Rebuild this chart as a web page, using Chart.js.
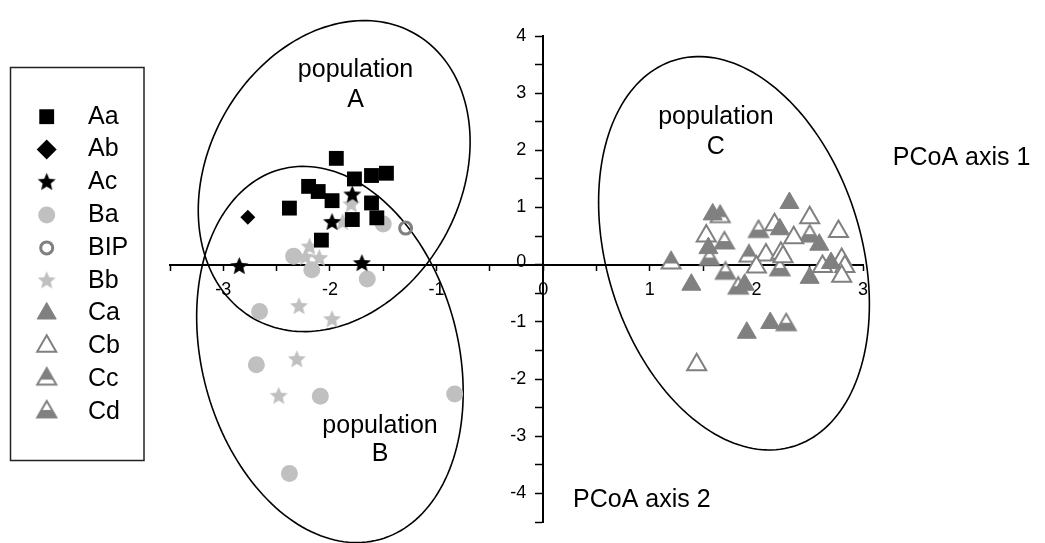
<!DOCTYPE html>
<html>
<head>
<meta charset="utf-8">
<title>PCoA</title>
<script src="https://cdn.jsdelivr.net/npm/chart.js@4/dist/chart.umd.min.js"></script>
<style>
  html, body { margin: 0; padding: 0; background: #fff; }
</style>
</head>
<body>
<canvas id="pcoa" width="1045" height="543"></canvas>
<script>
"use strict";

// collections, in legend order
var groupNames = ['Aa', 'Ab', 'Ac', 'Ba', 'BIP', 'Bb', 'Ca', 'Cb', 'Cc', 'Cd'];

// [PCoA axis 1, PCoA axis 2] per individual
var pointsAa = [[-1.94, 1.86], [-1.77, 1.50], [-1.61, 1.56], [-1.47, 1.60], [-2.20, 1.37], [-2.11, 1.28],
                [-1.98, 1.12], [-2.38, 0.99], [-1.61, 1.08], [-1.56, 0.82], [-1.79, 0.79], [-2.08, 0.43]];
var pointsAb = [[-2.77, 0.83]];
var pointsAc = [[-2.85, -0.03], [-1.70, 0.02], [-1.98, 0.74], [-1.79, 1.22]];
var pointsBa = [[-2.34, 0.15], [-2.17, -0.09], [-1.65, -0.25], [-1.50, 0.71], [-2.66, -0.82], [-2.69, -1.75],
                [-2.09, -2.30], [-0.83, -2.26], [-2.38, -3.65]];
var pointsBIP = [[-1.29, 0.64]];
var pointsBb = [[-2.19, 0.31], [-2.23, 0.13], [-2.10, 0.11], [-1.80, 1.05], [-1.88, 0.74], [-2.29, -0.73],
                [-1.98, -0.96], [-2.31, -1.66], [-2.48, -2.30]];
var pointsCa = [[2.31, 1.08], [1.59, 0.88], [2.22, 0.62], [1.55, 0.29], [2.59, 0.35], [2.70, 0.03],
                [2.50, -0.23], [1.39, -0.35], [1.89, -0.35], [2.13, -1.02], [1.91, -1.19]];
var pointsCb = [[2.50, 0.82], [2.17, 0.70], [2.77, 0.58], [1.53, 0.50], [2.35, 0.47], [2.09, 0.17],
                [2.23, 0.20], [2.25, 0.14], [2.00, -0.04], [2.62, -0.03], [2.80, 0.09], [2.83, -0.03],
                [2.80, -0.20], [1.44, -1.75]];
var pointsCc = [[1.20, 0.03], [1.93, 0.15], [1.66, 0.84]];
var pointsCd = [[2.02, 0.58], [1.70, 0.38], [1.56, 0.09], [2.50, 0.50], [1.71, -0.15], [2.22, -0.09],
                [1.83, -0.41], [2.28, -1.05]];

// axis ranges and tick step
var axis1Range = [-3.5, 3];
var axis2Range = [-4.5, 4];
var tickStep = 0.5;

// population outlines: centre, half extent along each axis, tilt (correlation)
var popNames = ['A', 'B', 'C'];
var popCentres = [[-1.96, 1.55], [-2.00, -1.57], [1.79, 0.20]];
var popHalfWidths = [1.275, 1.25, 1.27];
var popHalfHeights = [2.72, 3.29, 3.44];
var popTilts = [0.22, -0.20, -0.26];
var popLabelAt = [[-1.76, 3.40, 2.88], [-1.53, -2.82, -3.32], [1.62, 2.58, 2.06]];

var FONT = "'Liberation Sans', Arial, Helvetica, sans-serif";
var BLACK = '#000000';
var LIGHT = '#c0c0c0';
var DARK = '#808080';

Chart.defaults.font.family = FONT;

function makeStar(color, r) {
    var c = document.createElement('canvas');
    var s = Math.ceil(r * 2 + 2);
    c.width = s;
    c.height = s;
    var g = c.getContext('2d');
    g.fillStyle = color;
    g.beginPath();
    for (var i = 0; i < 10; i++) {
        var rr = (i % 2) ? r * 0.45 : r;
        var a = -Math.PI / 2 + i * Math.PI / 5;
        var px = s / 2 + rr * Math.cos(a);
        var py = s / 2 + rr * Math.sin(a);
        if (i === 0) { g.moveTo(px, py); } else { g.lineTo(px, py); }
    }
    g.closePath();
    g.fill();
    return c;
}

// outlined triangle with either the upper or the lower part filled
function makeSplitTriangle(color, r, fillTop) {
    var c = document.createElement('canvas');
    var s = Math.ceil(r * 2 + 4);
    c.width = s;
    c.height = s;
    var g = c.getContext('2d');
    var cx = s / 2, cy = s / 2;
    var half = r * Math.sin(Math.PI / 3);
    var top = cy - r, base = cy + r / 2;
    g.beginPath();
    g.moveTo(cx, top);
    g.lineTo(cx + half, base);
    g.lineTo(cx - half, base);
    g.closePath();
    g.fillStyle = '#ffffff';
    g.fill();
    g.save();
    g.clip();
    g.fillStyle = color;
    if (fillTop) {
        g.fillRect(0, 0, s, base - 5);
    } else {
        g.fillRect(0, base - 0.45 * (base - top), s, s);
    }
    g.restore();
    g.lineWidth = 2;
    g.strokeStyle = color;
    g.stroke();
    return c;
}

function toXY(list) {
    return list.map(function(p) { return {x: p[0], y: p[1]}; });
}

var blackStar = makeStar(BLACK, 9.5);
var greyStar = makeStar(LIGHT, 9.5);
var triTop = makeSplitTriangle(DARK, 11, true);
var triBottom = makeSplitTriangle(DARK, 11, false);

var styles = [
    {data: pointsAa, pointStyle: 'rect', bg: BLACK, border: BLACK, bw: 0, r: 10.5},
    {data: pointsAb, pointStyle: 'rectRot', bg: BLACK, border: BLACK, bw: 0, r: 7.5},
    {data: pointsAc, pointStyle: blackStar, bg: BLACK, border: BLACK, bw: 0, r: 9},
    {data: pointsBa, pointStyle: 'circle', bg: LIGHT, border: LIGHT, bw: 0, r: 8.5},
    {data: pointsBIP, pointStyle: 'circle', bg: 'rgba(0,0,0,0)', border: DARK, bw: 3, r: 6},
    {data: pointsBb, pointStyle: greyStar, bg: LIGHT, border: LIGHT, bw: 0, r: 9},
    {data: pointsCa, pointStyle: 'triangle', bg: DARK, border: DARK, bw: 1, r: 11},
    {data: pointsCb, pointStyle: 'triangle', bg: '#ffffff', border: DARK, bw: 2, r: 11},
    {data: pointsCc, pointStyle: triTop, bg: DARK, border: DARK, bw: 0, r: 11},
    {data: pointsCd, pointStyle: triBottom, bg: DARK, border: DARK, bw: 0, r: 11}
];

var datasets = styles.map(function(st, i) {
    return {
        label: groupNames[i],
        data: toXY(st.data),
        pointStyle: st.pointStyle,
        pointRadius: st.r,
        pointHoverRadius: st.r,
        backgroundColor: st.bg,
        borderColor: st.border,
        borderWidth: st.bw,
        showLine: false
    };
});

function wholeOnly(v) {
    return Math.abs(v - Math.round(v)) < 1e-6 ? String(Math.round(v)) : '';
}

var populationOutlines = {
    id: 'populationOutlines',
    beforeDatasetsDraw: function(chart) {
        var ctx = chart.ctx;
        var xs = chart.scales.x, ys = chart.scales.y;
        ctx.save();
        ctx.strokeStyle = BLACK;
        ctx.lineWidth = 1.6;
        for (var k = 0; k < popNames.length; k++) {
            var c = popCentres[k], w = popHalfWidths[k], h = popHalfHeights[k], rho = popTilts[k];
            ctx.beginPath();
            for (var i = 0; i <= 180; i++) {
                var t = i / 180 * Math.PI * 2;
                var dx = w * Math.cos(t);
                var dy = h * (rho * Math.cos(t) + Math.sqrt(1 - rho * rho) * Math.sin(t));
                var px = xs.getPixelForValue(c[0] + dx);
                var py = ys.getPixelForValue(c[1] + dy);
                if (i === 0) { ctx.moveTo(px, py); } else { ctx.lineTo(px, py); }
            }
            ctx.closePath();
            ctx.stroke();
        }
        ctx.restore();
    },
    afterDraw: function(chart) {
        var ctx = chart.ctx;
        var xs = chart.scales.x, ys = chart.scales.y;
        ctx.save();
        ctx.fillStyle = BLACK;

        // axis 2 tick labels sit left of the tick marks
        ctx.font = '18px ' + FONT;
        ctx.textAlign = 'right';
        ctx.textBaseline = 'middle';
        var axisX = xs.getPixelForValue(0);
        ys.ticks.forEach(function(t) {
            var lbl = wholeOnly(t.value);
            if (lbl) {
                ctx.fillText(lbl, axisX - 17, ys.getPixelForValue(t.value) + (t.value === 0 ? -3 : 0));
            }
        });

        ctx.font = '25px ' + FONT;
        ctx.textAlign = 'center';
        for (var k = 0; k < popNames.length; k++) {
            var at = popLabelAt[k];
            ctx.fillText('population', xs.getPixelForValue(at[0]), ys.getPixelForValue(at[1]));
            ctx.fillText(popNames[k], xs.getPixelForValue(at[0]), ys.getPixelForValue(at[2]));
        }
        ctx.textAlign = 'left';
        ctx.fillText('PCoA axis 1', xs.getPixelForValue(3.28), ys.getPixelForValue(1.87));
        ctx.fillText('PCoA axis 2', xs.getPixelForValue(0.28), ys.getPixelForValue(-4.12));
        ctx.restore();
    }
};

// boxed key on the left, drawn with the same point styles as the series
var boxedKey = {
    id: 'boxedKey',
    afterDraw: function(chart) {
        var ctx = chart.ctx;
        var helpers = Chart.helpers;
        ctx.save();
        ctx.strokeStyle = '#222222';
        ctx.lineWidth = 1.5;
        ctx.strokeRect(10.5, 67.5, 133.5, 393);
        ctx.font = '25px ' + FONT;
        ctx.textBaseline = 'middle';
        ctx.textAlign = 'left';
        for (var i = 0; i < styles.length; i++) {
            var st = styles[i];
            var y = 116.7 + i * 32.8;
            ctx.fillStyle = st.bg;
            ctx.strokeStyle = st.border;
            ctx.lineWidth = st.bw;
            var r = st.pointStyle === 'rectRot' ? 10 : st.r;
            helpers.drawPoint(ctx, {pointStyle: st.pointStyle, rotation: 0, radius: r, borderWidth: st.bw}, 46.7, y);
            ctx.fillStyle = BLACK;
            ctx.fillText(groupNames[i], 88, y);
        }
        ctx.restore();
    }
};

new Chart(document.getElementById('pcoa'), {
    type: 'scatter',
    data: {datasets: datasets},
    options: {
        responsive: false,
        animation: false,
        devicePixelRatio: 1,
        layout: {padding: {left: 170, right: 182, top: 36, bottom: 21}},
        plugins: {legend: {display: false}, tooltip: {enabled: false}},
        scales: {
            x: {
                type: 'linear',
                min: axis1Range[0],
                max: axis1Range[1],
                position: {y: 0},
                border: {display: true, color: BLACK, width: 2},
                grid: {display: true, drawOnChartArea: false, drawTicks: true, tickLength: 5, tickWidth: 1.5, tickColor: BLACK},
                ticks: {stepSize: tickStep, autoSkip: false, maxRotation: 0, padding: 10, color: BLACK,
                        font: {size: 18}, callback: wholeOnly}
            },
            y: {
                type: 'linear',
                min: axis2Range[0],
                max: axis2Range[1],
                position: {x: 0},
                border: {display: true, color: BLACK, width: 2},
                grid: {display: true, drawOnChartArea: false, drawTicks: true, tickLength: 7, tickWidth: 1.5, tickColor: BLACK},
                ticks: {display: false, stepSize: tickStep, autoSkip: false, callback: wholeOnly}
            }
        }
    },
    plugins: [populationOutlines, boxedKey]
});
</script>
</body>
</html>
